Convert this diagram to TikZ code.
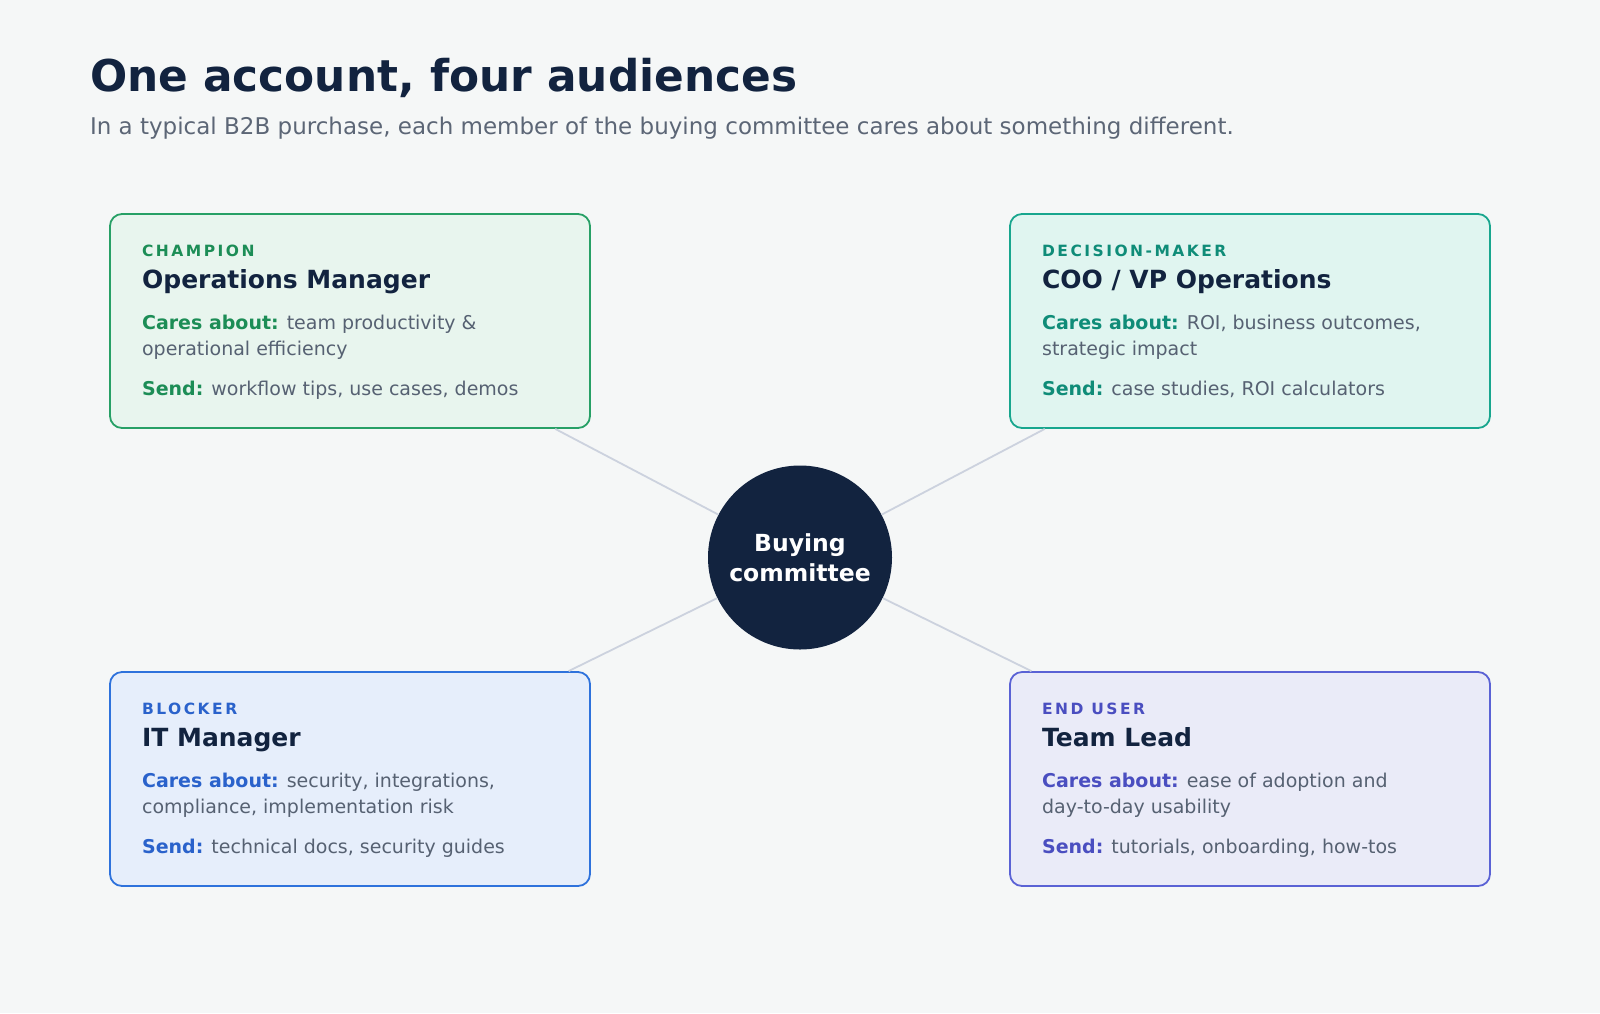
\documentclass[tikz,border=0pt]{standalone}
\usepackage{fontspec}
\setmainfont{DejaVu Sans}
\newfontfamily\lblfont[LetterSpace=16]{DejaVu Sans}
\usetikzlibrary{calc}
\definecolor{bgc}{HTML}{F5F7F7}
\definecolor{navy}{HTML}{12233F}
\definecolor{subgray}{HTML}{5C6676}
\definecolor{bodygray}{HTML}{566172}
\definecolor{linec}{HTML}{CCD2DE}
\definecolor{gfill}{HTML}{E8F5EE}\definecolor{gline}{HTML}{27A066}\definecolor{gacc}{HTML}{1C8D56}
\definecolor{tfill}{HTML}{E0F5F0}\definecolor{tline}{HTML}{18A68E}\definecolor{tacc}{HTML}{0F8C78}
\definecolor{bfill}{HTML}{E6EEFB}\definecolor{bline}{HTML}{2E72DC}\definecolor{bacc}{HTML}{2A62CB}
\definecolor{pfill}{HTML}{EAEBF8}\definecolor{pline}{HTML}{5A62D5}\definecolor{pacc}{HTML}{4A4EC0}
\begin{document}
\begin{tikzpicture}[x=1pt,y=-1pt,
  card/.style={draw, line width=1.8pt, rounded corners=12pt, minimum width=480pt, minimum height=214pt, inner sep=0pt},
  txt/.style={anchor=base west, inner sep=0pt, outer sep=0pt},
  lbl/.style={txt, font=\fontsize{15.5}{18}\lblfont\bfseries},
  head/.style={txt, text=navy, font=\fontsize{25}{30}\selectfont\bfseries},
  body/.style={txt, text=bodygray, font=\fontsize{19}{24}\selectfont},
  conn/.style={draw=linec, line width=1.8pt},
  hub/.style={circle, fill=navy, minimum size=184pt, inner sep=0pt, text=white, align=center, font=\fontsize{23.5}{29.5}\selectfont\bfseries}
]
\useasboundingbox (0,0) rectangle (1600,1013);
\fill[bgc] (0,0) rectangle (1600,1013);

\node[txt, text=navy, font=\fontsize{43.8}{52}\selectfont\bfseries] (title) at (90,91) {One account, four audiences};
\node[txt, text=subgray, font=\fontsize{23}{28}\selectfont] (subtitle) at (90,134) {In a typical B2B purchase, each member of the buying committee cares about something different.};

% cards
\node[card, fill=gfill, draw=gline] (c1) at (350,321) {};
\node[card, fill=tfill, draw=tline] (c2) at (1250,321) {};
\node[card, fill=bfill, draw=bline] (c3) at (350,779) {};
\node[card, fill=pfill, draw=pline] (c4) at (1250,779) {};

\node[hub] (hub) at (800,557.5) {Buying\\committee};

\draw[conn] (hub) -- (c1);
\draw[conn] (hub) -- (c2);
\draw[conn] (hub) -- (c3);
\draw[conn] (hub) -- (c4);

% card 1
\node[lbl, text=gacc] (c1l) at ($(c1.north west)+(33,43)$) {CHAMPION};
\node[head] (c1h) at ($(c1.north west)+(33,75.6)$) {Operations Manager};
\node[body] (c1a) at ($(c1.north west)+(33,116.4)$) {\textcolor{gacc}{\bfseries Cares about:} team productivity \&};
\node[body] (c1b) at ($(c1.north west)+(33,142.2)$) {operational efficiency};
\node[body] (c1s) at ($(c1.north west)+(33,182.4)$) {\textcolor{gacc}{\bfseries Send:} workflow tips, use cases, demos};

% card 2
\node[lbl, text=tacc] (c2l) at ($(c2.north west)+(33,43)$) {DECISION-MAKER};
\node[head] (c2h) at ($(c2.north west)+(33,75.6)$) {COO / VP Operations};
\node[body] (c2a) at ($(c2.north west)+(33,116.4)$) {\textcolor{tacc}{\bfseries Cares about:} ROI, business outcomes,};
\node[body] (c2b) at ($(c2.north west)+(33,142.2)$) {strategic impact};
\node[body] (c2s) at ($(c2.north west)+(33,182.4)$) {\textcolor{tacc}{\bfseries Send:} case studies, ROI calculators};

% card 3
\node[lbl, text=bacc] (c3l) at ($(c3.north west)+(33,43)$) {BLOCKER};
\node[head] (c3h) at ($(c3.north west)+(33,75.6)$) {IT Manager};
\node[body] (c3a) at ($(c3.north west)+(33,116.4)$) {\textcolor{bacc}{\bfseries Cares about:} security, integrations,};
\node[body] (c3b) at ($(c3.north west)+(33,142.2)$) {compliance, implementation risk};
\node[body] (c3s) at ($(c3.north west)+(33,182.4)$) {\textcolor{bacc}{\bfseries Send:} technical docs, security guides};

% card 4
\node[lbl, text=pacc] (c4l) at ($(c4.north west)+(33,43)$) {END USER};
\node[head] (c4h) at ($(c4.north west)+(33,75.6)$) {Team Lead};
\node[body] (c4a) at ($(c4.north west)+(33,116.4)$) {\textcolor{pacc}{\bfseries Cares about:} ease of adoption and};
\node[body] (c4b) at ($(c4.north west)+(33,142.2)$) {day-to-day usability};
\node[body] (c4s) at ($(c4.north west)+(33,182.4)$) {\textcolor{pacc}{\bfseries Send:} tutorials, onboarding, how-tos};
\end{tikzpicture}
\end{document}
